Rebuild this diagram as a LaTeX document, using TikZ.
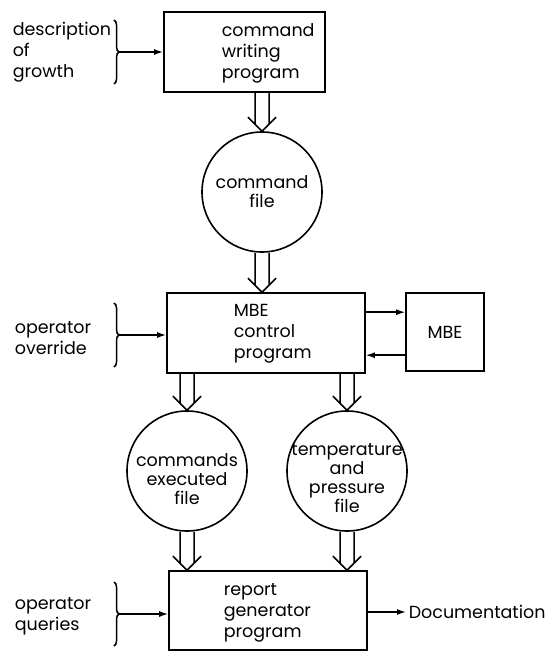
\documentclass[tikz,border=0pt]{standalone}
\usepackage{fontspec}
\setmainfont{Poppins}
\usetikzlibrary{arrows.meta,decorations.pathreplacing,calc}
\newcommand\hollowdown[2]{%
  \draw[hollow] let \p1=(#1), \p2=(#2) in
    (\x2-7pt,\y1) -- (\x2-7pt,\y2+7pt)
    (\x2+7pt,\y1) -- (\x2+7pt,\y2+7pt)
    (\x2-14pt,\y2+14pt) -- (\x2,\y2) -- (\x2+14pt,\y2+14pt);}
\begin{document}
\begin{tikzpicture}[x=1pt,y=-1pt,line width=1.6pt,
  box/.style={draw,rectangle,inner sep=0pt,font=\fontsize{17.5}{21}\selectfont},
  file/.style={draw,circle,minimum size=120pt,inner sep=0pt,align=center},
  lbl/.style={align=left,inner sep=0pt,font=\fontsize{17.5}{21}\selectfont},
  flbl/.style={align=center,inner sep=0pt,font=\fontsize{17.5}{19}\selectfont},
  hollow/.style={line width=1.5pt},
  feed/.style={-{Latex[length=9pt,width=6pt]},line width=1.5pt},
  curly/.style={decorate,decoration={brace,amplitude=5pt},line width=1.5pt}]
\useasboundingbox (0,0) rectangle (549,652);
% boxes
\node[box,minimum width=161pt,minimum height=80pt] (w) at (244.5,52) {};
\node[file] (cf) at (262,192) {};
\node[box,minimum width=198pt,minimum height=80pt] (ctrl) at (266,333) {};
\node[box,minimum width=78pt,minimum height=78pt] (mbe) at (445,332) {MBE};
\node[file] (ce) at (187,471) {};
\node[file] (tp) at (347,471) {};
\node[box,minimum width=198pt,minimum height=79pt] (rep) at (268,610.5) {};
% texts
\node[lbl,anchor=west] (wt) at (221,53) {command\\writing\\program};
\node[flbl] (cft) at (262,192) {command\\file};
\node[lbl,anchor=west] (ct) at (233,334) {MBE\\control\\program};
\node[flbl] (cet) at (187,479) {commands\\executed\\file};
\node[flbl] (tpt) at (347,478) {temperature\\and\\pressure\\file};
\node[lbl,anchor=west] (rt) at (223,613) {report\\generator\\program};
\node[lbl,anchor=west] (doc) at (408,612) {Documentation};
\node[lbl,anchor=west] (t1) at (12,52) {description\\of\\growth};
\node[lbl,anchor=west] (t2) at (14,338) {operator\\override};
\node[lbl,anchor=west] (t3) at (14,616) {operator\\queries};
% braces
\draw[curly] (114,20) -- (114,84);
\coordinate (b1) at (119,52);
\draw[curly] (114,303) -- (114,367);
\coordinate (b2) at (119,335);
\draw[curly] (114,582) -- (114,646);
\coordinate (b3) at (119,614);
\draw[feed] (b1) -- (b1 -| w.west);
\draw[feed] (b2) -- (b2 -| ctrl.west);
\draw[feed] (b3) -- (b3 -| rep.west);
% MBE link
\draw[feed] ([yshift=-20pt]ctrl.north east) -- ([yshift=-20pt]ctrl.north east -| mbe.west);
\draw[feed] ([yshift=-63pt]ctrl.north east -| mbe.west) -- ([yshift=-63pt]ctrl.north east);
\draw[feed,shorten >=2pt] (rep.east |- doc.west) -- (doc.west);
% hollow arrows
\hollowdown{w.south -| cf.north}{cf.north}
\hollowdown{cf.south}{ctrl.north -| cf.south}
\hollowdown{ctrl.south -| ce.north}{ce.north}
\hollowdown{ctrl.south -| tp.north}{tp.north}
\hollowdown{ce.south}{rep.north -| ce.south}
\hollowdown{tp.south}{rep.north -| tp.south}
\end{tikzpicture}
\end{document}
